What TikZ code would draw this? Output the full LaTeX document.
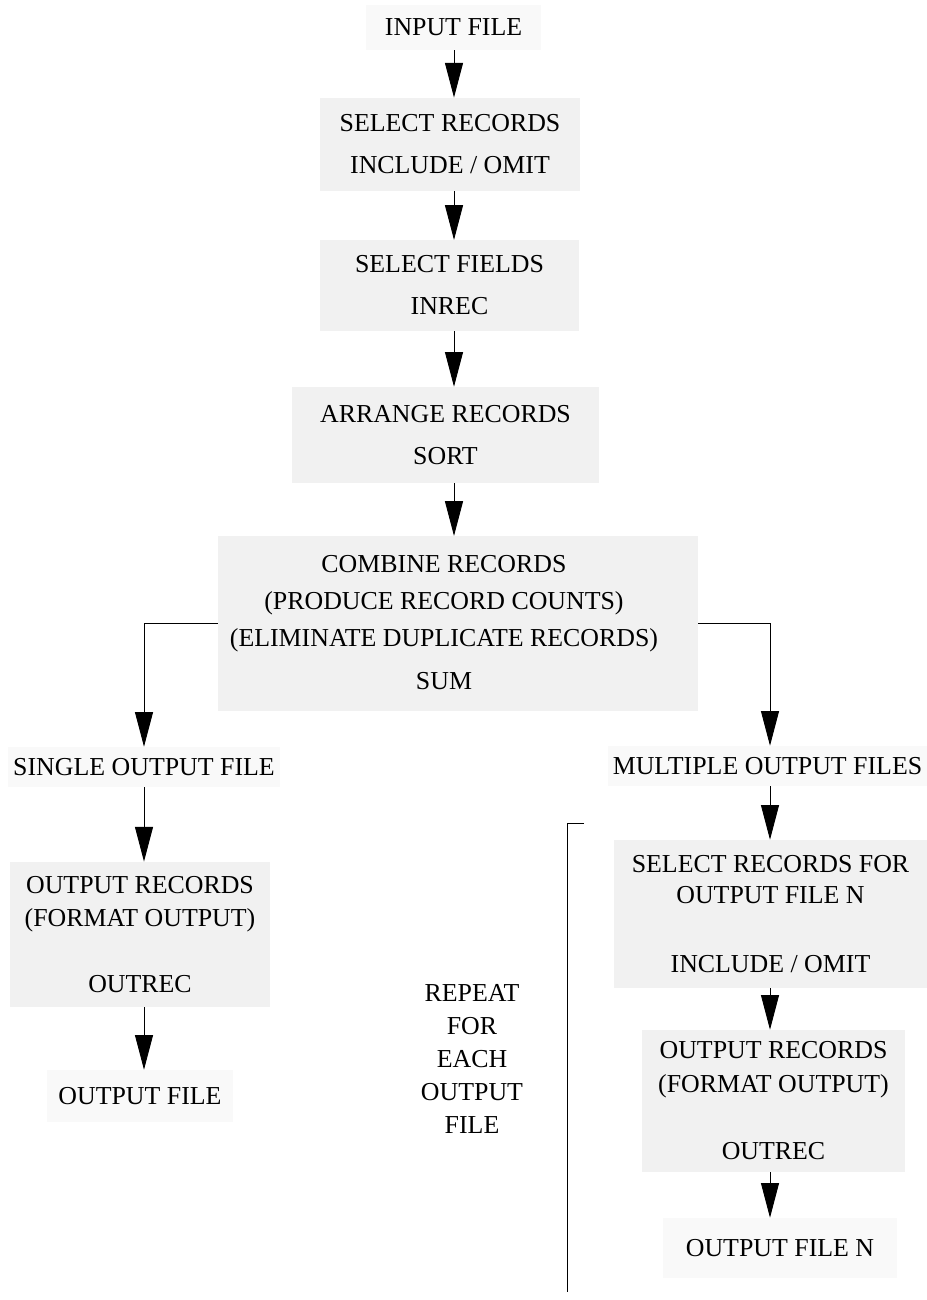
\documentclass[tikz,border=0pt]{standalone}
\usepackage{fontspec}
\setmainfont{Liberation Serif}
\usetikzlibrary{arrows.meta}
\definecolor{filegray}{HTML}{F9F9F9}
\definecolor{stepgray}{HTML}{F1F1F1}
\tikzset{
  filebox/.style={rectangle, fill=filegray, inner sep=0pt, align=center},
  procbox/.style={rectangle, fill=stepgray, inner sep=0pt, align=center},
  flow/.style={line width=0.7pt, -{Triangle[width=13.5pt,length=26pt]}},
}
\begin{document}
\begin{tikzpicture}[x=0.75pt, y=-0.75pt, font=\fontsize{19.4}{24}\selectfont]
    % Page frame (reference size in pixels)
    \useasboundingbox (0,0) rectangle (927,1300);

    % Columns the arrows run along
    \coordinate (spine) at (454,0);
    \coordinate (lspine) at (144,0);
    \coordinate (rspine) at (770,0);

    % Main column
    \node[filebox, minimum width=131pt, minimum height=34pt] (infile) at (453.5,27.5) {INPUT FILE};
    \node[procbox, minimum width=195pt, minimum height=70pt] (selrec) at (450,144.5)
        {SELECT RECORDS\\[7.5pt] INCLUDE / OMIT};
    \node[procbox, minimum width=194pt, minimum height=68pt] (selfld) at (449.5,285.5)
        {SELECT FIELDS\\[7.5pt] INREC};
    \node[procbox, minimum width=230pt, minimum height=72pt] (arrange) at (445.5,435)
        {ARRANGE RECORDS\\[7.5pt] SORT};
    \node[procbox, minimum width=360pt, minimum height=131pt] (combine) at (458,623.5) {};
    \node[align=center] (combinetxt) at (444,623)
        {COMBINE RECORDS\\[3.75pt] (PRODUCE RECORD COUNTS)\\[3.75pt]
         (ELIMINATE DUPLICATE RECORDS)\\[8.25pt] SUM};

    % Left branch: one output file
    \node[filebox, minimum width=204pt, minimum height=30pt] (single) at (144,767) {SINGLE OUTPUT FILE};
    \node[procbox, minimum width=195pt, minimum height=109pt] (outrecl) at (140,934.5)
        {OUTPUT RECORDS\\[0.75pt] (FORMAT OUTPUT)\\[26pt] OUTREC};
    \node[filebox, minimum width=139.5pt, minimum height=39pt] (outfile) at (140,1096) {OUTPUT FILE};

    % Right branch: several output files
    \node[filebox, minimum width=239pt, minimum height=30pt] (multi) at (767.5,766) {MULTIPLE OUTPUT FILES};
    \node[procbox, minimum width=235pt, minimum height=111pt] (selfor) at (770.5,914)
        {SELECT RECORDS FOR\\[-0.75pt] OUTPUT FILE N\\[27.75pt] INCLUDE / OMIT};
    \node[procbox, minimum width=197pt, minimum height=106.5pt] (outrecr) at (773.5,1101)
        {OUTPUT RECORDS\\[1.5pt] (FORMAT OUTPUT)\\[26.25pt] OUTREC};
    \node[filebox, minimum width=175.5pt, minimum height=45pt] (outfilen) at (780,1248) {OUTPUT FILE N};

    % Loop note and its bracket
    \node[align=center] (repeat) at (472,1059)
        {REPEAT\\[0.75pt] FOR\\[0.75pt] EACH\\[0.75pt] OUTPUT\\[0.75pt] FILE};
    \coordinate (brtop) at (584,823);
    \coordinate (brbot) at (567,1292);
    \draw[line width=0.7pt] (brtop) -- (brtop -| brbot) -- (brbot);

    % Arrows of the main column
    \draw[flow] (infile.south -| spine) -- (selrec.north -| spine);
    \draw[flow] (selrec.south -| spine) -- (selfld.north -| spine);
    \draw[flow] (selfld.south -| spine) -- (arrange.north -| spine);
    \draw[flow] (arrange.south -| spine) -- (combine.north -| spine);

    % Split into the two branches
    \draw[flow] (combine.west) -| (single.north -| lspine);
    \draw[flow] (combine.east) -| (multi.north -| rspine);

    % Arrows of the left branch
    \draw[flow] (single.south -| lspine) -- (outrecl.north -| lspine);
    \draw[flow] (outrecl.south -| lspine) -- (outfile.north -| lspine);

    % Arrows of the right branch
    \draw[flow] (multi.south -| rspine) -- (selfor.north -| rspine);
    \draw[flow] (selfor.south -| rspine) -- (outrecr.north -| rspine);
    \draw[flow] (outrecr.south -| rspine) -- (outfilen.north -| rspine);

\end{tikzpicture}
\end{document}
